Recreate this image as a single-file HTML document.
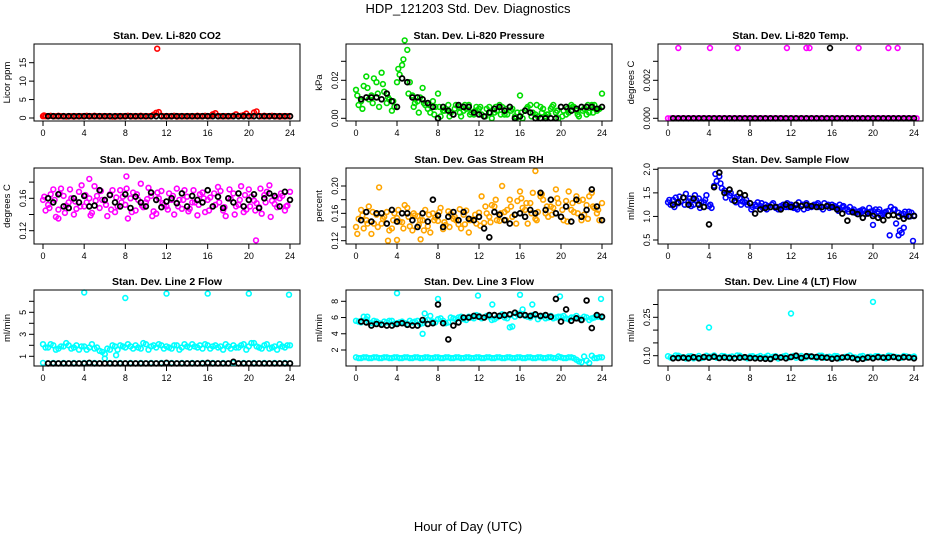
<!DOCTYPE html>
<html><head><meta charset="utf-8"><style>
html,body{margin:0;padding:0;background:#fff;}
svg{display:block;font-family:"Liberation Sans",Arial,sans-serif;}
</style></head><body>
<svg id="c" width="936" height="540" viewBox="0 0 936 540">
<text x="468" y="13" text-anchor="middle" font-size="13">HDP_121203  Std. Dev. Diagnostics</text>
<text x="468" y="531" text-anchor="middle" font-size="13">Hour of Day (UTC)</text>
</svg>
<script>
const xTicks=[0,4,8,12,16,20,24];
// P1 CO2
const co2A=[0.5,0.5,0.5,0.6,0.5,0.5,0.4,0.5,0.5,0.5,0.6,0.5,0.5,0.5,0.4,0.5,0.5,0.5,0.5,0.6,0.5,0.5,1.4,0.6,0.5,0.5,0.4,0.5,0.5,0.5,0.6,0.5,0.5,1.0,0.5,0.5,0.5,0.6,0.5,0.8,0.5,1.5,0.5,0.6,0.5,0.5,0.4,0.5,0.5];
const co2B=[0.5,0.6,0.5,0.5,0.4,0.5,0.5,0.5,0.6,0.5,0.5,0.5,0.5,0.4,0.5,0.5,0.6,0.5,0.5,0.5,0.5,0.9,1.6,0.5,0.5,0.6,0.5,0.5,0.5,0.5,0.5,0.6,0.5,1.3,0.5,0.5,0.5,1.0,0.6,1.2,0.5,1.8,0.5,0.5,0.6,0.5,0.5,0.5];
const co2K=[0.5,0.5,0.5,0.5,0.5,0.5,0.5,0.5,0.5,0.5,0.5,0.5,0.5,0.5,0.5,0.5,0.5,0.5,0.5,0.5,0.5,0.5,0.5,0.5,0.5,0.5,0.5,0.5,0.5,0.5,0.5,0.5,0.5,0.5,0.5,0.5,0.5,0.5,0.5,0.5,0.5,0.5,0.5,0.5,0.5,0.5,0.5,0.5];
const co2OutX=[0.1,11.1], co2OutY=[0.7,18.8];
// P2 pressure
const prA=[.015,.009,.022,.012,.019,.024,.008,.004,.019,.028,.036,.012,.009,.016,.005,.009,.013,.004,.007,.002,.006,.004,.007,.002,.005,.001,.006,.003,.007,.002,.006,.001,.012,.004,.007,.002,.006,.001,.005,.003,.006,.002,.007,.004,.006,.002,.007,.004,.013];
const prB=[.007,.017,.010,.021,.006,.014,.010,.006,.023,.041,.019,.008,.011,.007,.003,.006,.001,.005,.003,.007,.001,.005,.003,.006,.002,.005,.000,.004,.006,.002,.005,.003,.000,.006,.003,.001,.005,.002,.007,.000,.004,.003,.006,.001,.005,.003,.007,.005];
const prC=[.012,.005,.016,.008,.013,.018,.011,.009,.026,.031,.013,.006,.003,.008,.007,.002,.006,.004,.001,.005,.003,.007,.002,.004,.006,.001,.003,.006,.002,.005,.004,.000,.003,.005,.001,.007,.003,.002,.006,.004,.001,.005,.006,.002,.004,.007,.003,.005];
const prK=[.010,.011,.011,.011,.010,.013,.009,.006,.021,.019,.011,.011,.010,.008,.006,.000,.006,.004,.002,.007,.006,.006,.003,.002,.001,.003,.005,.006,.004,.006,.000,.001,.004,.003,.000,.000,.000,.000,.000,.006,.006,.004,.005,.006,.006,.006,.005,.006];
// P3 temp
const tmA=[0,0,0,0,0,0,0,0,0,0,0,0,0,0,0,0,0,0,0,0,0,0,0,0,0,0,0,0,0,0,0,0,0,0,0,0,0,0,0,0,0,0,0,0,0,0,0,0,0];
const tmK=[0,0,0,0,0,0,0,0,0,0,0,0,0,0,0,0,0,0,0,0,0,0,0,0,0,0,0,0,0,0,0,0,0,0,0,0,0,0,0,0,0,0,0,0,0,0,0,0];
const tmOutX=[1,4.1,6.8,11.6,13.5,13.8,18.6,21.5,22.4], tmOutY=[.0037,.0037,.0037,.0037,.0037,.0037,.0037,.0037,.0037];
const tmKOutX=[15.8], tmKOutY=[.0037];
// P4 amb box
const abA=[.158,.152,.171,.146,.163,.155,.140,.168,.150,.160,.175,.148,.157,.165,.143,.170,.152,.160,.145,.178,.155,.163,.141,.169,.150,.158,.172,.147,.162,.155,.139,.167,.158,.150,.174,.145,.160,.166,.152,.143,.171,.157,.149,.164,.176,.153,.160,.145,.168];
const abB=[.145,.165,.137,.172,.151,.160,.147,.176,.155,.142,.163,.158,.138,.170,.150,.162,.135,.167,.158,.149,.173,.144,.160,.152,.166,.140,.158,.170,.147,.155,.165,.143,.161,.152,.169,.138,.159,.150,.175,.146,.162,.154,.141,.168,.157,.149,.163,.151];
const abC=[.162,.148,.158,.166,.142,.171,.156,.150,.164,.139,.157,.169,.152,.146,.161,.155,.172,.143,.165,.151,.159,.138,.167,.154,.146,.163,.150,.158,.144,.170,.152,.160,.145,.166,.155,.149,.171,.140,.158,.164,.150,.145,.172,.155,.137,.161,.166,.150];
const abK=[.160,.155,.165,.150,.148,.160,.155,.163,.150,.151,.170,.158,.164,.155,.150,.165,.148,.162,.155,.150,.167,.158,.149,.156,.160,.154,.166,.150,.163,.158,.155,.170,.150,.162,.148,.160,.155,.166,.150,.158,.165,.148,.160,.166,.163,.150,.168,.158];
const abOutX=[20.7,1.5,4.5,8.1], abOutY=[.108,.135,.184,.187];
// P5 RH
const rhA=[.140,.165,.150,.130,.158,.145,.162,.138,.153,.147,.168,.135,.156,.150,.141,.160,.149,.137,.163,.152,.144,.158,.132,.150,.161,.146,.155,.170,.149,.162,.180,.158,.192,.165,.175,.152,.185,.160,.170,.195,.155,.178,.165,.185,.150,.172,.190,.160,.175];
const rhB=[.152,.138,.170,.145,.198,.155,.135,.160,.148,.172,.141,.157,.150,.165,.132,.154,.168,.143,.159,.150,.138,.164,.151,.145,.185,.160,.172,.150,.200,.165,.155,.178,.168,.145,.190,.162,.180,.155,.168,.175,.150,.192,.162,.178,.158,.185,.168,.150];
const rhC=[.130,.157,.145,.162,.140,.152,.120,.150,.165,.138,.155,.160,.143,.135,.158,.150,.162,.147,.140,.155,.166,.144,.150,.158,.142,.170,.147,.180,.160,.150,.170,.145,.182,.175,.160,.150,.188,.170,.158,.182,.165,.148,.175,.160,.180,.152,.170,.165];
const rhK=[.150,.162,.148,.160,.160,.145,.165,.148,.160,.160,.150,.140,.160,.148,.180,.157,.140,.155,.162,.150,.162,.152,.150,.155,.138,.125,.162,.158,.150,.145,.158,.160,.155,.165,.160,.190,.165,.180,.160,.155,.170,.148,.180,.155,.165,.195,.170,.150];
const rhOutX=[17.5,4,6.3], rhOutY=[.222,.121,.122];
// P6 sample flow
const sfA=[1.30,1.35,1.28,1.40,1.32,1.25,1.38,1.30,1.22,1.65,1.85,1.55,1.45,1.40,1.38,1.30,1.28,1.25,1.22,1.25,1.20,1.18,1.22,1.20,1.25,1.18,1.22,1.28,1.20,1.25,1.20,1.22,1.25,1.18,1.20,1.15,1.12,1.10,1.15,1.08,1.12,1.10,1.05,1.12,1.15,1.08,1.05,1.10,1.02];
const sfB=[1.25,1.40,1.32,1.48,1.22,1.35,1.30,1.45,1.18,1.75,1.60,1.50,1.35,1.42,1.32,1.25,1.20,1.30,1.18,1.22,1.28,1.15,1.25,1.20,1.18,1.30,1.15,1.22,1.25,1.20,1.28,1.18,1.22,1.25,1.15,1.20,1.08,1.12,1.05,1.10,1.15,1.02,1.10,1.20,0.85,1.05,1.00,1.08];
const sfC=[1.35,1.20,1.42,1.25,1.38,1.45,1.18,1.35,1.25,1.90,1.70,1.40,1.50,1.30,1.25,1.35,1.15,1.22,1.28,1.15,1.25,1.20,1.18,1.28,1.22,1.15,1.25,1.18,1.22,1.28,1.15,1.25,1.20,1.12,1.22,1.10,1.15,1.05,1.12,1.18,1.05,1.15,1.08,0.60,1.15,0.70,1.10,1.00];
const sfK=[1.25,1.30,1.40,1.25,1.38,1.25,1.20,0.83,1.62,1.93,1.50,1.57,1.33,1.50,1.45,1.28,1.06,1.15,1.18,1.20,1.20,1.15,1.25,1.20,1.25,1.22,1.24,1.22,1.20,1.20,1.22,1.20,1.15,1.06,0.91,1.09,1.05,0.97,1.06,1.01,0.97,0.92,1.02,1.03,1.00,0.95,1.00,1.01];
const sfOutX=[20,22.5,23.9,23,22.8], sfOutY=[0.82,0.6,0.48,0.76,0.65];
// P7 line 2
const l2A=[2.1,1.8,2.0,1.7,1.9,2.0,1.8,1.6,1.9,1.8,1.7,1.5,1.2,1.6,1.9,2.0,1.8,1.9,2.0,1.7,2.1,1.9,1.8,2.0,1.9,1.7,2.0,1.8,1.9,2.1,1.8,1.7,2.0,1.9,1.8,1.6,1.9,2.0,1.8,2.1,1.9,2.2,1.8,2.0,1.7,1.9,2.1,1.8,2.0];
const l2B=[1.8,2.1,1.6,1.9,2.2,1.7,2.0,1.9,1.6,2.1,1.8,1.4,1.7,2.0,1.6,1.9,2.1,1.7,1.8,2.2,1.6,2.0,2.1,1.7,1.8,2.0,1.6,2.1,1.8,1.9,2.0,2.1,1.7,2.0,1.9,2.1,1.7,1.8,2.0,1.6,2.2,1.9,1.7,2.1,1.8,1.6,1.9,2.0];
const l2L=[0.4,0.35,0.4,0.35,0.4,0.35,0.4,0.35,0.4,0.35,0.4,0.35,0.8,0.4,0.35,0.4,0.35,0.4,0.35,0.4,0.35,0.4,0.35,0.4,0.35,0.4,0.35,0.4,0.35,0.4,0.35,0.4,0.35,0.4,0.35,0.4,0.35,0.4,0.35,0.4,0.35,0.4,0.35,0.4,0.35,0.4,0.35,0.4,0.35];
const l2K=[0.35,0.35,0.35,0.35,0.35,0.35,0.35,0.35,0.4,0.35,0.35,0.35,0.35,0.35,0.35,0.35,0.35,0.35,0.35,0.35,0.35,0.35,0.35,0.4,0.35,0.35,0.35,0.35,0.35,0.35,0.35,0.4,0.35,0.35,0.35,0.35,0.5,0.35,0.35,0.35,0.35,0.35,0.35,0.35,0.35,0.35,0.35,0.35];
const l2OutX=[4,8,12,16,20,23.9,7.1], l2OutY=[6.8,6.3,6.7,6.7,6.7,6.6,1.1];
// P8 line 3
const l3A=[5.6,5.4,5.8,5.3,5.5,5.2,5.4,5.6,5.3,5.5,5.2,5.4,5.6,5.3,5.7,5.5,5.8,5.6,5.4,5.9,6.0,5.8,6.1,5.9,6.2,6.0,6.1,5.8,6.2,6.0,6.3,6.1,6.5,6.2,6.0,6.3,6.1,5.9,6.2,6.0,6.1,5.9,6.0,6.2,5.8,6.0,5.9,6.1,6.0];
const l3B=[5.5,6.1,5.4,5.6,5.3,5.5,5.6,5.2,5.4,5.3,5.6,5.5,5.2,5.6,6.2,5.4,5.9,5.3,6.0,5.8,6.1,5.7,6.0,6.3,5.9,6.2,5.7,6.0,6.4,5.9,4.9,6.4,7.0,6.1,6.3,5.8,6.2,6.0,5.9,6.1,6.2,5.8,6.0,5.9,6.1,5.7,6.0,6.1];
const l3L=[1.1,1.0,1.1,1.0,1.1,1.0,1.1,1.0,1.1,1.0,1.1,1.0,1.1,1.0,1.1,1.0,1.1,1.0,1.1,1.0,1.1,1.0,1.1,1.0,1.1,1.0,1.1,1.0,1.1,1.0,1.1,1.0,1.1,1.0,1.1,1.0,1.1,1.0,1.1,1.0,1.1,1.0,1.1,0.8,0.5,0.7,1.3,1.0,1.1];
const l3M=[1.0,1.1,1.0,1.1,1.0,1.1,1.0,1.1,1.0,1.1,1.0,1.1,1.0,1.1,1.0,1.1,1.0,1.1,1.0,1.1,1.0,1.1,1.0,1.1,1.0,1.1,1.0,1.1,1.0,1.1,1.0,1.1,1.0,1.1,1.0,1.1,1.0,1.1,1.0,1.2,1.0,1.1,1.0,0.6,1.2,0.4,1.0,1.1];
const l3K=[5.5,5.4,5.0,5.2,5.1,5.0,5.0,5.2,5.3,5.1,5.0,5.0,5.7,5.2,5.3,7.6,5.3,3.3,5.0,5.4,6.0,6.0,6.2,6.1,6.0,6.3,6.3,6.2,6.3,6.4,6.6,6.3,6.3,6.2,6.4,6.2,6.3,6.1,8.3,5.5,7.0,5.6,5.9,5.7,8.1,4.7,6.3,6.1];
const l3OutX=[4,8,11.9,13.3,16,17.2,19.9,23.9,6.5,6.7,15,1.1], l3OutY=[9.0,8.3,8.7,7.6,8.8,7.6,8.6,8.3,4.0,6.5,4.8,6.1];
// P9 line 4
const l4A=[.098,.092,.100,.094,.097,.090,.099,.093,.096,.101,.092,.098,.095,.090,.100,.094,.097,.092,.099,.095,.091,.098,.094,.100,.096,.092,.099,.094,.097,.091,.100,.095,.093,.098,.092,.097,.094,.090,.099,.095,.092,.098,.094,.100,.096,.093,.099,.095,.097];
const l4B=[.093,.101,.095,.089,.098,.094,.091,.100,.096,.092,.099,.093,.097,.101,.094,.090,.098,.095,.092,.100,.096,.089,.097,.093,.099,.095,.091,.098,.094,.100,.092,.096,.099,.090,.095,.101,.093,.097,.091,.096,.098,.094,.090,.099,.095,.092,.097,.094];
const l4K=[.090,.091,.092,.090,.094,.090,.095,.092,.096,.091,.093,.091,.090,.092,.094,.091,.090,.089,.088,.087,.095,.093,.090,.095,.100,.091,.098,.097,.095,.093,.092,.088,.090,.093,.094,.091,.086,.088,.093,.090,.094,.092,.093,.095,.091,.094,.093,.090];
const l4OutX=[4,12,20], l4OutY=[0.21,0.265,0.31];

const NS="http://www.w3.org/2000/svg";
const svg=document.getElementById('c');
function mk(tag,attrs,parent){const e=document.createElementNS(NS,tag);for(const k in attrs)e.setAttribute(k,attrs[k]);(parent||svg).appendChild(e);return e;}
const cols=[[34,300,43,290],[346,612,356,602],[658,923,668,914]];
const rows=[[44,121],[168,244],[290,366]];
const panels=[
 {title:"Stan. Dev. Li-820 CO2",ylab:"Licor ppm",map:[0,118,15,62.7],ticks:[0,5,10,15],labels:{0:"0",5:"5",10:"10",15:"15"},col:"#ff0000",
  series:[[co2A,0],[co2B,0.25]],black:co2K,out:[[co2OutX,co2OutY,"#ff0000"]]},
 {title:"Stan. Dev. Li-820 Pressure",ylab:"kPa",map:[0,118.3,0.02,80.3],ticks:[0,.01,.02,.03],labels:{0:"0.00",0.02:"0.02"},col:"#00dd00",
  series:[[prA,0],[prB,0.25],[prC,0.125]],black:prK,out:[]},
 {title:"Stan. Dev. Li-820 Temp.",ylab:"degrees C",map:[0,118.3,0.002,80.3],ticks:[0,.001,.002,.003],labels:{0:"0.000",0.002:"0.002"},col:"#ff00ff",
  series:[[tmA,0],[tmA,0.25]],black:tmK,out:[[tmOutX,tmOutY,"#ff00ff"],[tmKOutX,tmKOutY,"#000"]]},
 {title:"Stan. Dev. Amb. Box Temp.",ylab:"degrees C",map:[0.12,230.7,0.16,198.3],ticks:[.12,.14,.16,.18],labels:{0.12:"0.12",0.16:"0.16"},col:"#ff00ff",
  series:[[abA,0],[abB,0.25],[abC,0.125]],black:abK,out:[[abOutX,abOutY,"#ff00ff"]]},
 {title:"Stan. Dev. Gas Stream RH",ylab:"percent",map:[0.12,240.7,0.20,186],ticks:[.12,.14,.16,.18,.20],labels:{0.12:"0.12",0.16:"0.16",0.2:"0.20"},col:"#ffa500",
  series:[[rhA,0],[rhB,0.25],[rhC,0.125]],black:rhK,out:[[rhOutX,rhOutY,"#ffa500"]]},
 {title:"Stan. Dev. Sample Flow",ylab:"ml/min",map:[0.5,240,2.0,169.3],ticks:[.5,1,1.5,2],labels:{0.5:"0.5",1:"1.0",1.5:"1.5",2:"2.0"},col:"#0000ff",
  series:[[sfA,0],[sfB,0.25],[sfC,0.125]],black:sfK,out:[[sfOutX,sfOutY,"#0000ff"]]},
 {title:"Stan. Dev. Line 2 Flow",ylab:"ml/min",map:[1,356.3,5,312.3],ticks:[1,2,3,4,5,6],labels:{1:"1",3:"3",5:"5"},col:"#00ffff",
  series:[[l2A,0],[l2B,0.25],[l2L,0]],black:l2K,out:[[l2OutX,l2OutY,"#00ffff"]]},
 {title:"Stan. Dev. Line 3 Flow",ylab:"ml/min",map:[2,350,8,301.3],ticks:[2,4,6,8],labels:{2:"2",4:"4",6:"6",8:"8"},col:"#00ffff",
  series:[[l3A,0],[l3B,0.25],[l3L,0],[l3M,0.25]],black:l3K,out:[[l3OutX,l3OutY,"#00ffff"]]},
 {title:"Stan. Dev. Line 4 (LT) Flow",ylab:"ml/min",map:[0.10,355.7,0.25,317.3],ticks:[.10,.15,.20,.25,.30],labels:{0.1:"0.10",0.25:"0.25"},col:"#00ffff",
  series:[[l4A,0],[l4B,0.25]],black:l4K,out:[[l4OutX,l4OutY,"#00ffff"]]}
];
panels.forEach((p,i)=>{
  const c=cols[i%3], r=rows[Math.floor(i/3)];
  const g=mk('g',{});
  
  
  const xs=h=>c[2]+(c[3]-c[2])*h/24;
  const ys=v=>p.map[1]+(v-p.map[0])*(p.map[3]-p.map[1])/(p.map[2]-p.map[0]);
  const t=mk('text',{x:(c[0]+c[1])/2,y:r[0]-5,'text-anchor':'middle','font-size':'10.5','font-weight':'bold'},g);t.textContent=p.title;
  
  
  const dot=(x,y,col,sw,parent)=>{const e=mk('circle',{cx:x.toFixed(1),cy:y.toFixed(1),r:2.4,fill:'none',stroke:col,'stroke-width':sw},parent);return e;};
  const sg=mk('g',{},g);
  
  
  p.series.forEach(([vals,off])=>{vals.forEach((v,k)=>{dot(xs(off+k*0.5),ys(v),p.col,1.6,sg);});});
  p.out.forEach(([ox,oy,col])=>{ox.forEach((x,k)=>dot(xs(x),ys(oy[k]),col,1.6,sg));});
  const bg=mk('g',{},g);
  
  
  p.black.forEach((v,k)=>dot(xs(0.5+k*0.5),ys(v),'#000',1.8,bg));
  const box=mk('rect',{x:c[0],y:r[0],width:c[1]-c[0],height:r[1]-r[0],fill:'none',stroke:'#000','stroke-width':1},g);
  
  
  xTicks.forEach(h=>{const x=xs(h);mk('line',{x1:x,y1:r[1],x2:x,y2:r[1]+5,stroke:'#000'},g);
    const tx=mk('text',{x:x,y:r[1]+15,'text-anchor':'middle','font-size':'9'},g);tx.textContent=h;
    
    });
  p.ticks.forEach(v=>{const y=ys(v);mk('line',{x1:c[0],y1:y,x2:c[0]-5,y2:y,stroke:'#000'},g);
    const key=Object.keys(p.labels).find(k=>Math.abs(parseFloat(k)-v)<1e-9);
    if(key!==undefined){const tx=mk('text',{x:c[0]-8,y:y,'text-anchor':'middle','font-size':'9',transform:`rotate(-90 ${c[0]-8} ${y})`},g);tx.textContent=p.labels[key];
      
      }});
  const yl=mk('text',{x:c[0]-24,y:(r[0]+r[1])/2,'text-anchor':'middle','font-size':'9.5',transform:`rotate(-90 ${c[0]-24} ${(r[0]+r[1])/2})`},g);yl.textContent=p.ylab;
  
  
});
</script>
</body></html>
